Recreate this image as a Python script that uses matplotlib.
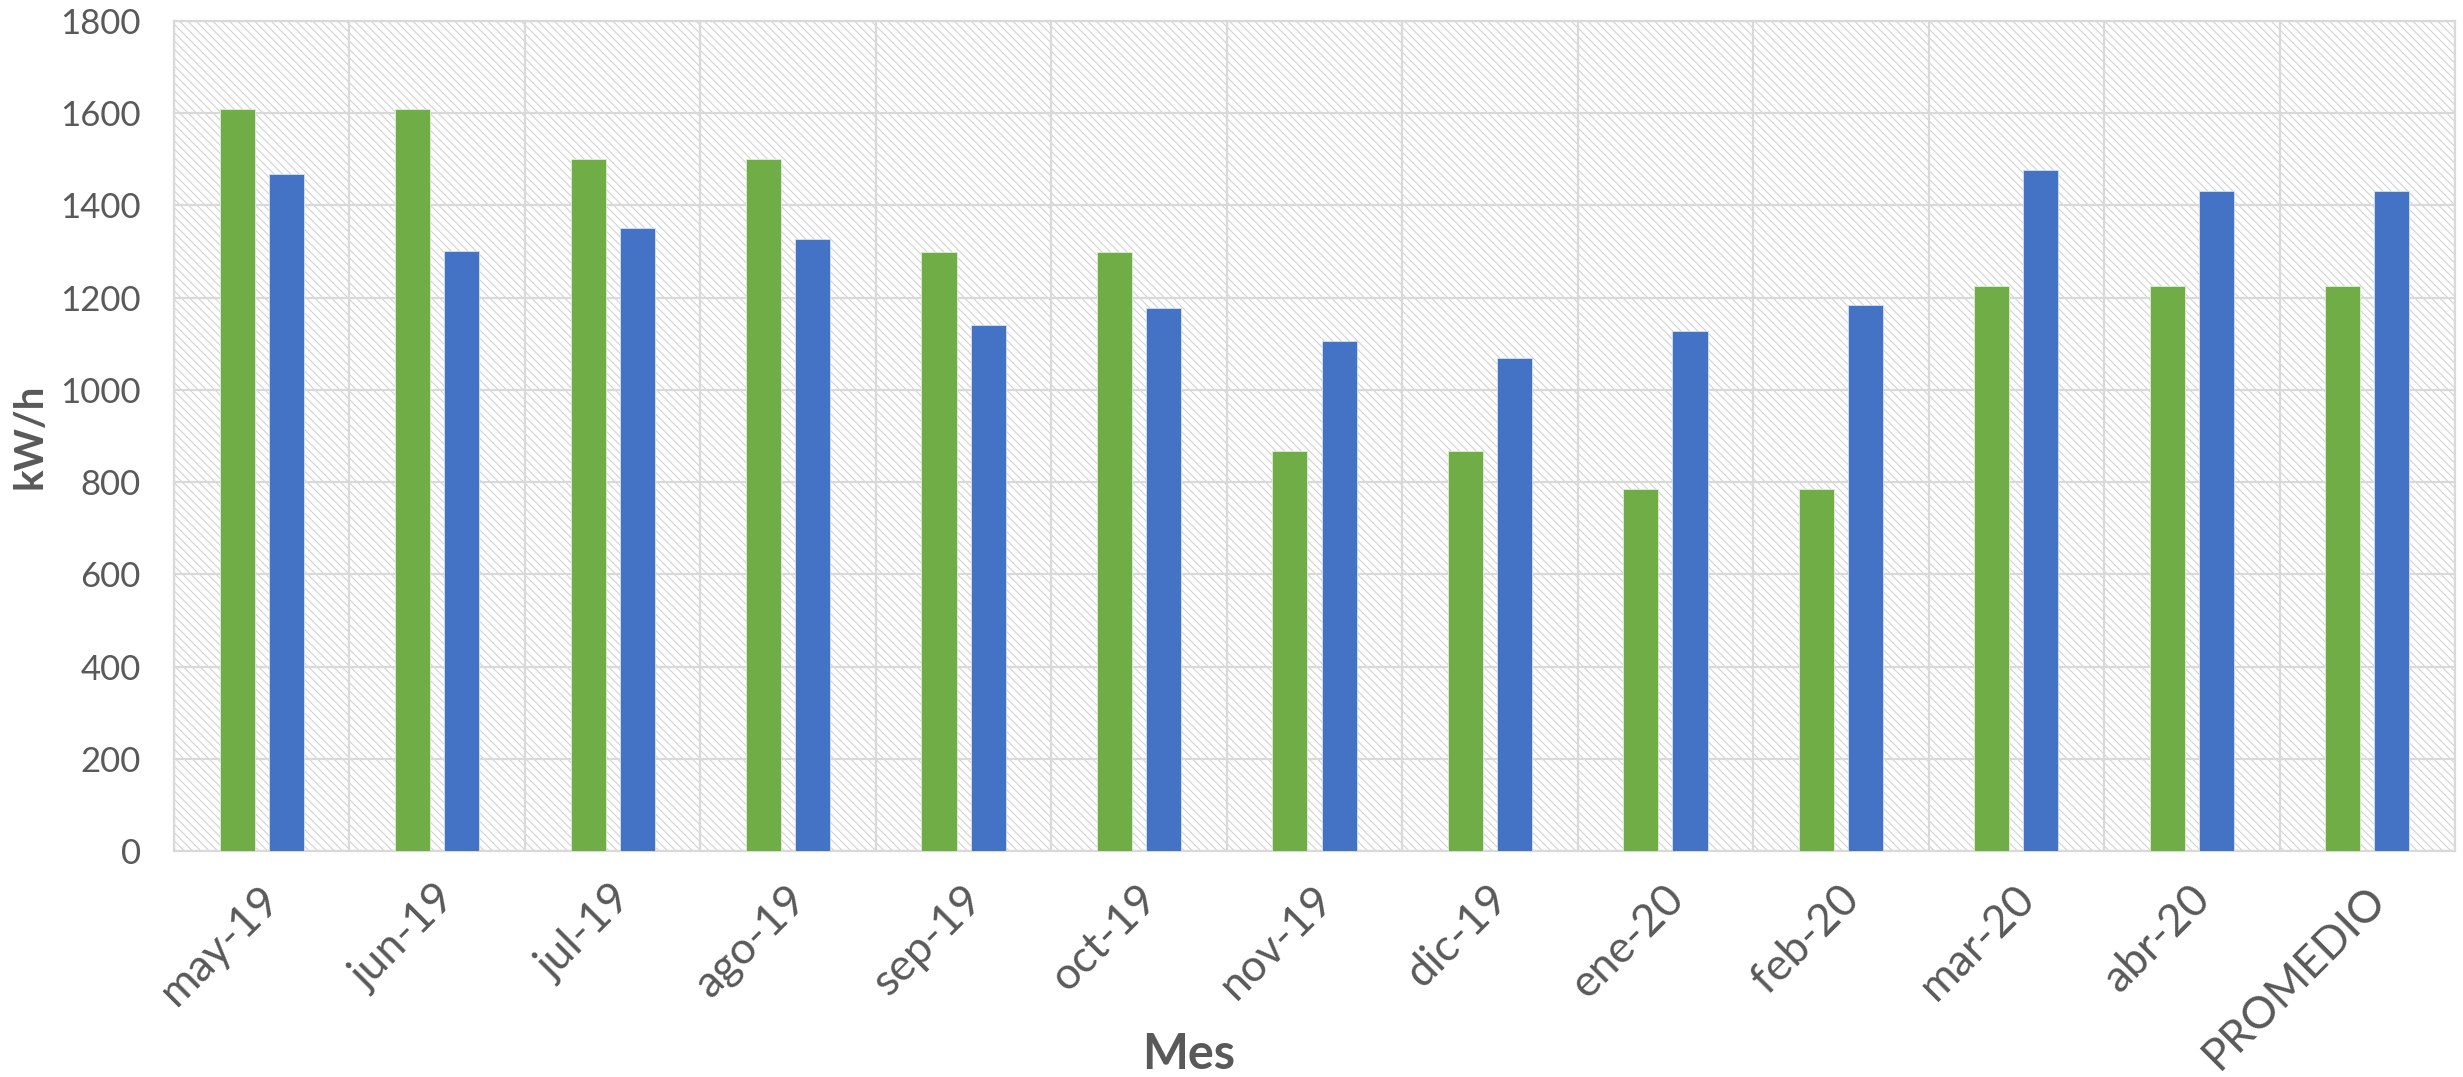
import numpy as np
import matplotlib
matplotlib.use('Agg')
import matplotlib.pyplot as plt
from matplotlib.patches import Rectangle
from matplotlib.transforms import ScaledTranslation

plt.rcParams['font.family'] = ['Lato', 'DejaVu Sans']
plt.rcParams['hatch.linewidth'] = 0.8

meses = ['may-19', 'jun-19', 'jul-19', 'ago-19', 'sep-19', 'oct-19', 'nov-19',
         'dic-19', 'ene-20', 'feb-20', 'mar-20', 'abr-20', 'PROMEDIO']
verde = [1610, 1610, 1500, 1500, 1298, 1298, 868, 868, 784, 784, 1225, 1225, 1225]
azul = [1468, 1302, 1351, 1328, 1141, 1178, 1105, 1070, 1127, 1184, 1477, 1432, 1432]
yticks = [0, 200, 400, 600, 800, 1000, 1200, 1400, 1600, 1800]

gris = '#595959'
linea = '#d9d9d9'

fig, ax = plt.subplots(figsize=(24.63, 10.77), dpi=100)
fig.subplots_adjust(left=174/2463, right=2455/2463, top=1-21/1077, bottom=1-851/1077)

# fondo rayado tipo Excel
ax.add_patch(Rectangle((0, 0), 1, 1, transform=ax.transAxes, facecolor='white',
                       edgecolor='#d2d2d2', hatch='\\\\\\\\', lw=0, zorder=0))

x = np.arange(len(meses))
ax.bar(x - 0.14, verde, width=0.2, color='#70AD47', edgecolor='#dfeed6', linewidth=0.6, zorder=3)
ax.bar(x + 0.14, azul, width=0.2, color='#4472C4', edgecolor='#d6e0f2', linewidth=0.6, zorder=3)

ax.set_xlim(-0.5, len(meses) - 0.5)
ax.set_ylim(0, 1800)
ax.set_yticks(yticks)
ax.set_xticks(x)
ax.set_xticklabels(meses, rotation=45, ha='right', va='center', rotation_mode='anchor')
ax.set_xticks(np.arange(-0.5, len(meses)), minor=True)

ax.set_axisbelow(True)
ax.grid(axis='y', which='major', color=linea, lw=1.6, zorder=1)
ax.grid(axis='x', which='minor', color=linea, lw=1.6, zorder=1)
ax.grid(axis='x', which='major', visible=False)

ax.tick_params(axis='y', length=0, pad=24, labelsize=25, labelcolor=gris)
ax.tick_params(axis='x', which='major', length=0, pad=24, labelsize=32, labelcolor=gris)
ax.tick_params(axis='x', which='minor', length=0)

# mover un poco las etiquetas a la derecha y abajo, como en Excel
desplaza = ScaledTranslation(0.12, -0.08, fig.dpi_scale_trans)
for lab in ax.get_xticklabels():
    lab.set_transform(lab.get_transform() + desplaza)

for s in ax.spines.values():
    s.set_color(linea)
    s.set_linewidth(1.6)

ax.set_ylabel('kW/h', fontsize=29, fontweight='bold', color=gris, va='center')
ax.yaxis.set_label_coords(-0.063, 0.5)
ax.set_xlabel('Mes', fontsize=35, fontweight='bold', color=gris)
ax.xaxis.set_label_coords(0.445, -0.245)
ax.xaxis.label.set_va('center')

fig.savefig('out.png', dpi=100)
